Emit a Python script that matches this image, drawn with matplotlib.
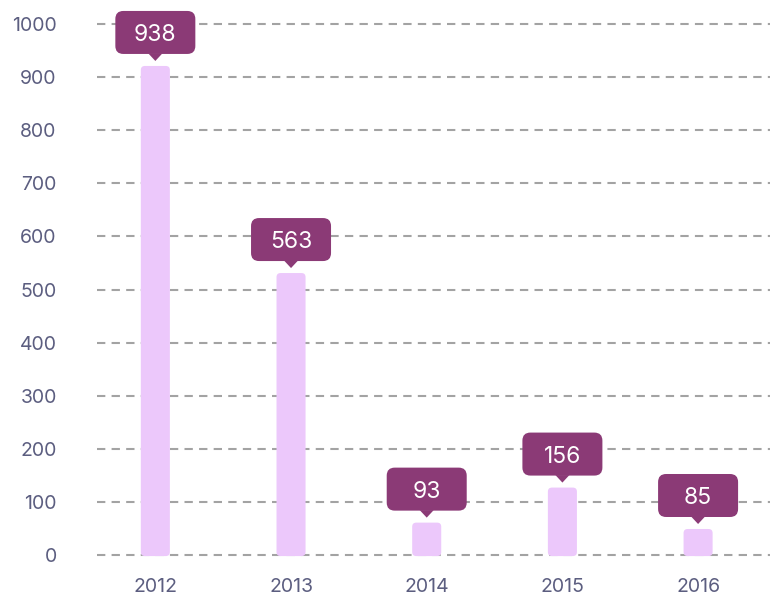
import matplotlib.pyplot as plt
import matplotlib.transforms as mtransforms
from matplotlib.patches import FancyBboxPatch, Polygon

years = ["2012", "2013", "2014", "2015", "2016"]
labels = [938, 563, 93, 156, 85]
# bar heights as drawn in the picture (slightly shorter than their labels)
bar_heights = [921, 531, 61, 127, 49]
y_ticks = [0, 100, 200, 300, 400, 500, 600, 700, 800, 900, 1000]

bar_color = "#ecc8fb"
tip_color = "#8b3a76"
text_color = "#5c5e80"

plt.rcParams["font.family"] = ["Inter", "DejaVu Sans"]

fig = plt.figure(figsize=(7.77, 5.98), dpi=100)
ax = fig.add_axes([97 / 777, 0.0630, 673 / 777, 0.9235])
ax.set_xlim(-0.43, 4.53)
ax.set_ylim(-10, 1030)

for s in ax.spines.values():
  s.set_visible(False)

ax.set_yticks(y_ticks)
ax.set_xticks(range(len(years)))
ax.set_xticklabels(years)
ax.tick_params(axis="y", length=0, pad=29, labelsize=14, labelcolor=text_color)
ax.tick_params(axis="x", length=0, pad=13, labelsize=14, labelcolor=text_color)
ax.yaxis.grid(True, color="#a3a3a3", linestyle=(0, (4, 3)), linewidth=1.5)
ax.set_axisbelow(True)

bw = 0.214
for i, h in enumerate(bar_heights):
  bar = FancyBboxPatch((i - bw / 2, -2), bw, h + 2,
                       boxstyle="round,pad=0,rounding_size=0.03",
                       mutation_aspect=254, facecolor=bar_color,
                       edgecolor="none", zorder=3)
  ax.add_patch(bar)

  # tooltip drawn in inches, anchored at the bar top
  tr = fig.dpi_scale_trans + mtransforms.ScaledTranslation(i, h, ax.transData)
  box = FancyBboxPatch((-0.40, 0.12), 0.80, 0.43,
                       boxstyle="round,pad=0,rounding_size=0.08",
                       facecolor=tip_color, edgecolor="none",
                       transform=tr, clip_on=False, zorder=4)
  ax.add_patch(box)
  tri = Polygon([(-0.07, 0.125), (0.07, 0.125), (0, 0.05)], closed=True,
                facecolor=tip_color, edgecolor="none",
                transform=tr, clip_on=False, zorder=4)
  ax.add_patch(tri)
  ax.text(0, 0.335, str(labels[i]), transform=tr, ha="center",
          va="center_baseline", color="white", fontsize=16.5, zorder=5,
          clip_on=False)

fig.savefig("out.png", dpi=100)
